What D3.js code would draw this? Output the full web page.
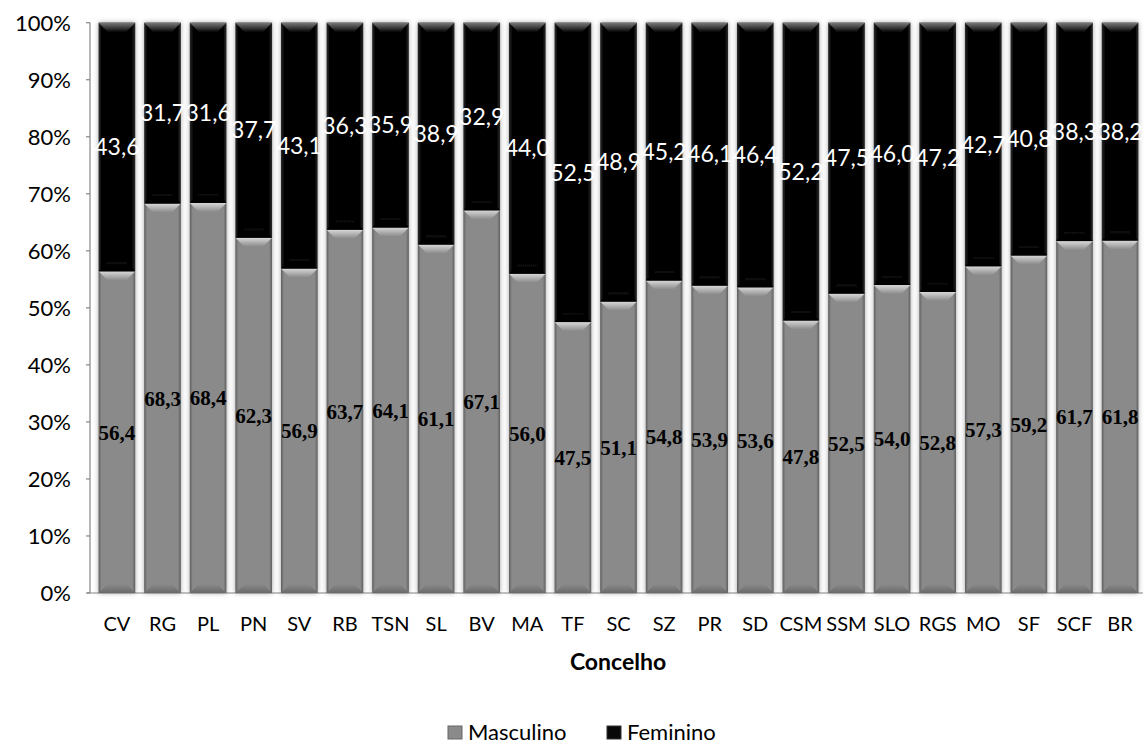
<!DOCTYPE html>
<html><head><meta charset="utf-8">
<script src="https://cdn.jsdelivr.net/npm/d3@7"></script>
<style>body{margin:0;background:#fff}</style>
</head><body>
<svg id="c" width="1144" height="745"></svg>
<script>
const categories = ["CV","RG","PL","PN","SV","RB","TSN","SL","BV","MA","TF","SC","SZ","PR","SD","CSM","SSM","SLO","RGS","MO","SF","SCF","BR"];
const masculino = [56.4,68.3,68.4,62.3,56.9,63.7,64.1,61.1,67.1,56.0,47.5,51.1,54.8,53.9,53.6,47.8,52.5,54.0,52.8,57.3,59.2,61.7,61.8];
const feminino  = [43.6,31.7,31.6,37.7,43.1,36.3,35.9,38.9,32.9,44.0,52.5,48.9,45.2,46.1,46.4,52.2,47.5,46.0,47.2,42.7,40.8,38.3,38.2];
const yTicks = [0,10,20,30,40,50,60,70,80,90,100];
const seriesNames = ["Masculino","Feminino"];

const svg = d3.select("#c");
const font = "Lato, 'Open Sans', sans-serif";
const x = d3.scaleBand().domain(categories).range([94,1143]).paddingInner(0.195).paddingOuter(0.1);
const y = d3.scaleLinear().domain([0,100]).range([593,22.7]);

const defs = svg.append("defs");
function hgrad(id, edge, mid){
  const g = defs.append("linearGradient").attr("id",id).attr("x1","0").attr("x2","1").attr("y1","0").attr("y2","0");
  [[0,edge],[0.08,mid],[0.92,mid],[1,edge]].forEach(([o,c])=>g.append("stop").attr("offset",o).attr("stop-color",c));
}
function vgrad(id, c1, c2){
  const g = defs.append("linearGradient").attr("id",id).attr("x1","0").attr("x2","0").attr("y1","0").attr("y2","1");
  g.append("stop").attr("offset",0).attr("stop-color",c1);
  g.append("stop").attr("offset",1).attr("stop-color",c2);
}
hgrad("gM","#5e5e5e","#8a8a8a");
hgrad("gF","#2c2c2c","#060606");
vgrad("tM","#d8d8d8","#8a8a8a");
vgrad("bM","#8a8a8a","#6a6a6a");
vgrad("tF","#7a7a7a","#0a0a0a");
vgrad("bF","#080808","#000000");
const f = defs.append("filter").attr("id","sh").attr("x","-20%").attr("y","-5%").attr("width","140%").attr("height","110%");
f.append("feDropShadow").attr("dx",0).attr("dy",0).attr("stdDeviation",2.5).attr("flood-color","#000").attr("flood-opacity",0.35);

// axes
svg.append("line").attr("x1",90).attr("x2",90).attr("y1",y(100)).attr("y2",y(0)).attr("stroke","#868686").attr("stroke-width",1.2);
svg.append("line").attr("x1",87).attr("x2",1143).attr("y1",y(0)).attr("y2",y(0)).attr("stroke","#868686").attr("stroke-width",1.2);
yTicks.forEach(t=>{
  svg.append("line").attr("x1",86).attr("x2",90).attr("y1",y(t)).attr("y2",y(t)).attr("stroke","#868686").attr("stroke-width",1.2);
  svg.append("text").attr("x",71).attr("y",y(t)).attr("dy","0.36em").attr("text-anchor","end")
    .attr("font-family",font).attr("font-size",22).attr("fill","#000").text(t+"%");
});

const bw = x.bandwidth(), bv = 9;
function segment(g, x0, y0, y1, base, top, bot){
  g.append("rect").attr("x",x0).attr("y",y0).attr("width",bw).attr("height",y1-y0).attr("fill",`url(#${base})`);
  const h = Math.min(bv,(y1-y0)/2);
  g.append("path").attr("d",`M${x0},${y0}L${x0+bw},${y0}L${x0+bw-h},${y0+h}L${x0+h},${y0+h}Z`).attr("fill",`url(#${top})`);
  g.append("path").attr("d",`M${x0+h},${y1-h}L${x0+bw-h},${y1-h}L${x0+bw},${y1}L${x0},${y1}Z`).attr("fill",`url(#${bot})`);
}
categories.forEach((c,i)=>{
  const g = svg.append("g").attr("filter","url(#sh)");
  const x0 = x(c);
  segment(g, x0, y(masculino[i]), y(0), "gM","tM","bM");
  segment(g, x0, y(masculino[i]+feminino[i]), y(masculino[i]), "gF","tF","bF");
});
const fmt = v => v.toFixed(1).replace(".",",");
categories.forEach((c,i)=>{
  const cx = x(c)+bw/2;
  svg.append("text").attr("x",cx).attr("y",y(masculino[i]/2)).attr("dy","0.35em").attr("text-anchor","middle")
    .attr("font-family","'Liberation Serif', serif").attr("font-weight","bold").attr("font-size",21).attr("fill","#000").text(fmt(masculino[i]));
  svg.append("text").attr("x",cx).attr("y",y(masculino[i]+feminino[i]/2)).attr("dy","0.36em").attr("text-anchor","middle")
    .attr("font-family",font).attr("font-size",23).attr("fill","#fff").text(fmt(feminino[i]));
  svg.append("text").attr("x",cx).attr("y",624).attr("dy","0.36em").attr("text-anchor","middle")
    .attr("font-family",font).attr("font-size",20).attr("fill","#000").text(c);
});
svg.append("text").attr("x",618).attr("y",662).attr("dy","0.36em").attr("text-anchor","middle")
  .attr("font-family",font).attr("font-weight","bold").attr("font-size",23).attr("fill","#000").text("Concelho");

// legend
const legX = [448, 607];
seriesNames.forEach((s,i)=>{
  svg.append("rect").attr("x",legX[i]).attr("y",726).attr("width",14).attr("height",13).attr("fill",i===0?"#8a8a8a":"#080808").attr("stroke",i===0?"#666":"#333");
  svg.append("text").attr("x",legX[i]+20).attr("y",732).attr("dy","0.36em").attr("font-family",font).attr("font-size",22).attr("fill","#000").text(s);
});
</script>
</body></html>
